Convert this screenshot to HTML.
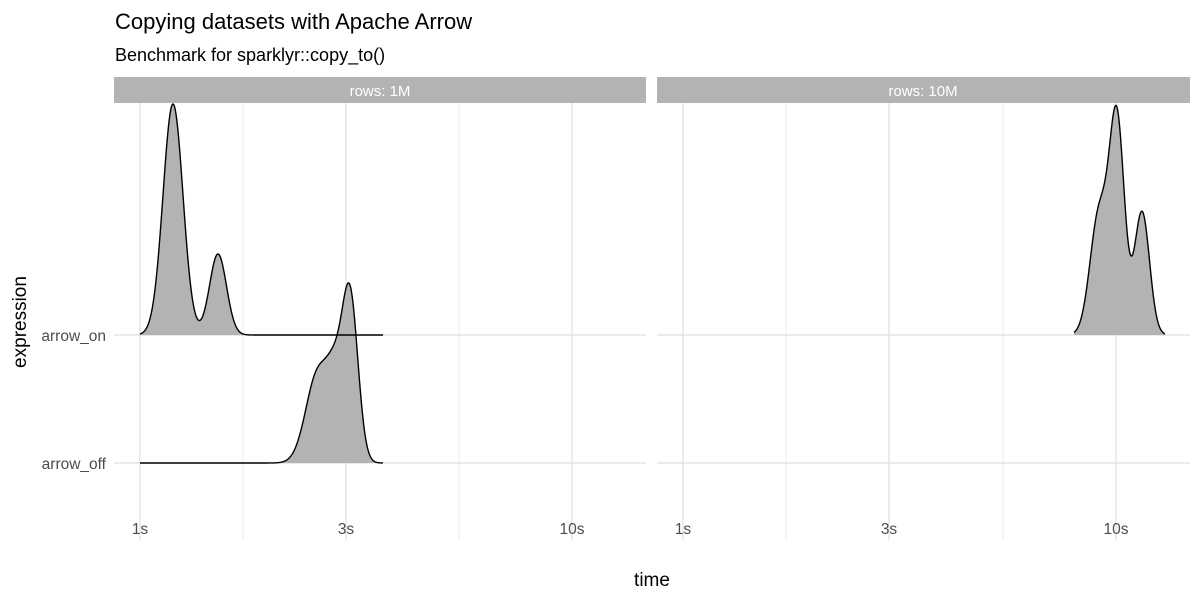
<!DOCTYPE html>
<html><head><meta charset="utf-8"><style>
body{margin:0;background:#fff;width:1200px;height:600px;overflow:hidden}
svg{font-family:"Liberation Sans",sans-serif}
</style></head><body>
<svg id="s" width="1200" height="600" xmlns="http://www.w3.org/2000/svg">
<rect width="1200" height="600" fill="#fff"/>
<text x="115" y="29" font-size="22" fill="#000">Copying datasets with Apache Arrow</text>
<text x="115" y="61" font-size="18" fill="#000">Benchmark for sparklyr::copy_to()</text>
<rect x="114" y="77" width="532" height="26" fill="#b3b3b3"/>
<rect x="657" y="77" width="533" height="26" fill="#b3b3b3"/>
<text x="380" y="96" font-size="15" fill="#fff" text-anchor="middle">rows: 1M</text>
<text x="923" y="96" font-size="15" fill="#fff" text-anchor="middle">rows: 10M</text>
<g stroke="#ebebeb" stroke-width="1">
<line x1="243" y1="103" x2="243" y2="540"/><line x1="459" y1="103" x2="459" y2="540"/>
<line x1="786" y1="103" x2="786" y2="540"/><line x1="1003" y1="103" x2="1003" y2="540"/>
</g>
<g stroke="#dedede" stroke-width="1.2">
<line x1="140" y1="103" x2="140" y2="540"/><line x1="346" y1="103" x2="346" y2="540"/><line x1="572" y1="103" x2="572" y2="540"/>
<line x1="683" y1="103" x2="683" y2="540"/><line x1="889" y1="103" x2="889" y2="540"/><line x1="1116" y1="103" x2="1116" y2="540"/>
<line x1="114" y1="335" x2="646" y2="335"/><line x1="114" y1="463" x2="646" y2="463"/>
<line x1="657" y1="335" x2="1190" y2="335"/><line x1="657" y1="463" x2="1190" y2="463"/>
</g>
<g id="curves"></g>
<g font-size="15.5" fill="#4d4d4d">
<text x="106" y="341" text-anchor="end">arrow_on</text>
<text x="106" y="469" text-anchor="end">arrow_off</text>
<text x="140" y="534" text-anchor="middle">1s</text><text x="346" y="534" text-anchor="middle">3s</text><text x="572" y="534" text-anchor="middle">10s</text>
<text x="683" y="534" text-anchor="middle">1s</text><text x="889" y="534" text-anchor="middle">3s</text><text x="1116" y="534" text-anchor="middle">10s</text>
</g>
<text x="652" y="586" font-size="19" text-anchor="middle">time</text>
<text transform="translate(26,322) rotate(-90)" font-size="19" text-anchor="middle">expression</text>
</svg>
<script>
function curve(x0,x1,base,gs){
  var pts=[];
  for(var x=x0;x<=x1;x+=0.5){var h=0;gs.forEach(function(g){h+=g[1]*Math.exp(-(x-g[0])*(x-g[0])/(2*g[2]*g[2]))});pts.push([x,base-h]);}
  var line="M"+pts.map(function(p){return p[0]+","+p[1].toFixed(2)}).join(" L");
  var fill=line+" L"+x1+","+base+" L"+x0+","+base+"Z";
  return '<path d="'+fill+'" fill="#b3b3b3"/><path d="'+line+'" fill="none" stroke="#000" stroke-width="1.4"/>';
}
var c="";
c+=curve(140,383,463,[[318,90,12],[335,60,8],[350,165,8]]);
c+=curve(140,383,335,[[173,231,10],[218,81,8.5]]);
c+=curve(1074,1165,335,[[1099,120,9],[1117,211,7.5],[1142,123,7.5]]);
document.getElementById("curves").innerHTML=c;
</script>
</body></html>
